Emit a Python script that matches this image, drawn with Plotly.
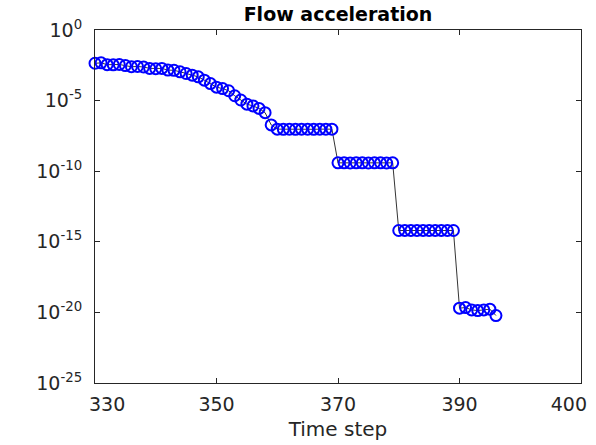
import plotly.graph_objects as go

# ---- data ----
time_step = list(range(330, 397))
flow_acceleration = [
    4.4e-3, 4.7e-3, 3.5e-3, 3.4e-3, 3.6e-3, 3.0e-3, 2.5e-3, 2.6e-3, 2.4e-3, 1.9e-3,
    1.8e-3, 1.9e-3, 1.45e-3, 1.4e-3, 1.1e-3, 8.3e-4, 6.3e-4, 4.8e-4, 2.8e-4, 1.6e-4,
    8.9e-5, 7.1e-5, 5.0e-5, 2.2e-5, 1.1e-5, 5.6e-6, 4.2e-6, 2.8e-6, 1.4e-6, 1.9e-7,
    9.5e-8, 9.3e-8, 9.4e-8, 9.3e-8, 9.5e-8, 9.4e-8, 9.3e-8, 9.5e-8, 9.4e-8, 9.5e-8,
    3.9e-10, 3.9e-10, 3.8e-10, 3.9e-10, 3.9e-10, 3.8e-10, 3.9e-10, 3.9e-10, 3.8e-10, 3.9e-10,
    6.3e-15, 6.4e-15, 6.3e-15, 6.3e-15, 6.4e-15, 6.3e-15, 6.3e-15, 6.4e-15, 6.3e-15, 6.3e-15,
    2.0e-20, 2.2e-20, 1.5e-20, 1.35e-20, 1.5e-20, 1.7e-20, 6.0e-21,
]

x_tick_values = [330, 350, 370, 390, 410]
x_label_values = [332, 350, 370, 390, 408]
x_tick_labels = ["330", "350", "370", "390", "400"]
y_tick_values = [1e-25, 1e-20, 1e-15, 1e-10, 1e-5, 1]
y_tick_labels = ["10<sup>-25</sup>", "10<sup>-20</sup>", "10<sup>-15</sup>",
                 "10<sup>-10</sup>", "10<sup>-5</sup>", "10<sup>0</sup>"]

FONT = "DejaVu Sans"
AX = "#262626"

fig = go.Figure()
fig.add_trace(go.Scatter(
    x=time_step, y=flow_acceleration, mode="lines",
    line=dict(color="black", width=0.8), hoverinfo="skip", showlegend=False,
))
fig.add_trace(go.Scatter(
    x=time_step, y=flow_acceleration, mode="markers",
    marker=dict(symbol="circle-open", size=11, color="#0000ff", line=dict(width=2, color="#0000ff")),
    cliponaxis=False, showlegend=False,
))
# invisible helper trace for the label axis
fig.add_trace(go.Scatter(x=[time_step[0]], y=[flow_acceleration[0]], xaxis="x2",
                         mode="markers", marker=dict(opacity=0), showlegend=False, hoverinfo="skip"))

fig.update_layout(
    width=596, height=445,
    margin=dict(l=95, r=15, t=30, b=62),
    paper_bgcolor="white", plot_bgcolor="white",
    font=dict(family=FONT, size=19, color=AX),
    title=dict(text="<b>Flow acceleration</b>", x=338 / 596, xanchor="center",
               y=1 - 14 / 445, yanchor="middle", font=dict(family=FONT, size=19, color="black")),
    xaxis=dict(
        range=[330, 410], tickvals=x_tick_values, showticklabels=False,
        ticks="inside", ticklen=5, tickcolor=AX, tickwidth=1,
        showline=True, linecolor=AX, linewidth=1, mirror="ticks",
        showgrid=False, zeroline=False, automargin=False,
    ),
    xaxis2=dict(
        overlaying="x", side="bottom", range=[330, 410],
        tickvals=x_label_values, ticktext=x_tick_labels, ticks="",
        showline=False, showgrid=False, zeroline=False, ticklabelstandoff=8,
        tickfont=dict(family=FONT, size=19, color=AX), automargin=False,
        title=dict(text="Time step", font=dict(family=FONT, size=20, color=AX), standoff=7),
    ),
    yaxis=dict(
        type="log", range=[-25, 0], tickvals=y_tick_values, ticktext=y_tick_labels,
        ticks="inside", ticklen=5, tickcolor=AX, tickwidth=1,
        showline=True, linecolor=AX, linewidth=1, mirror="ticks",
        showgrid=False, zeroline=False, ticklabelstandoff=8, automargin=False,
        tickfont=dict(family=FONT, size=19, color=AX),
    ),
)

fig.write_html("out.html")
